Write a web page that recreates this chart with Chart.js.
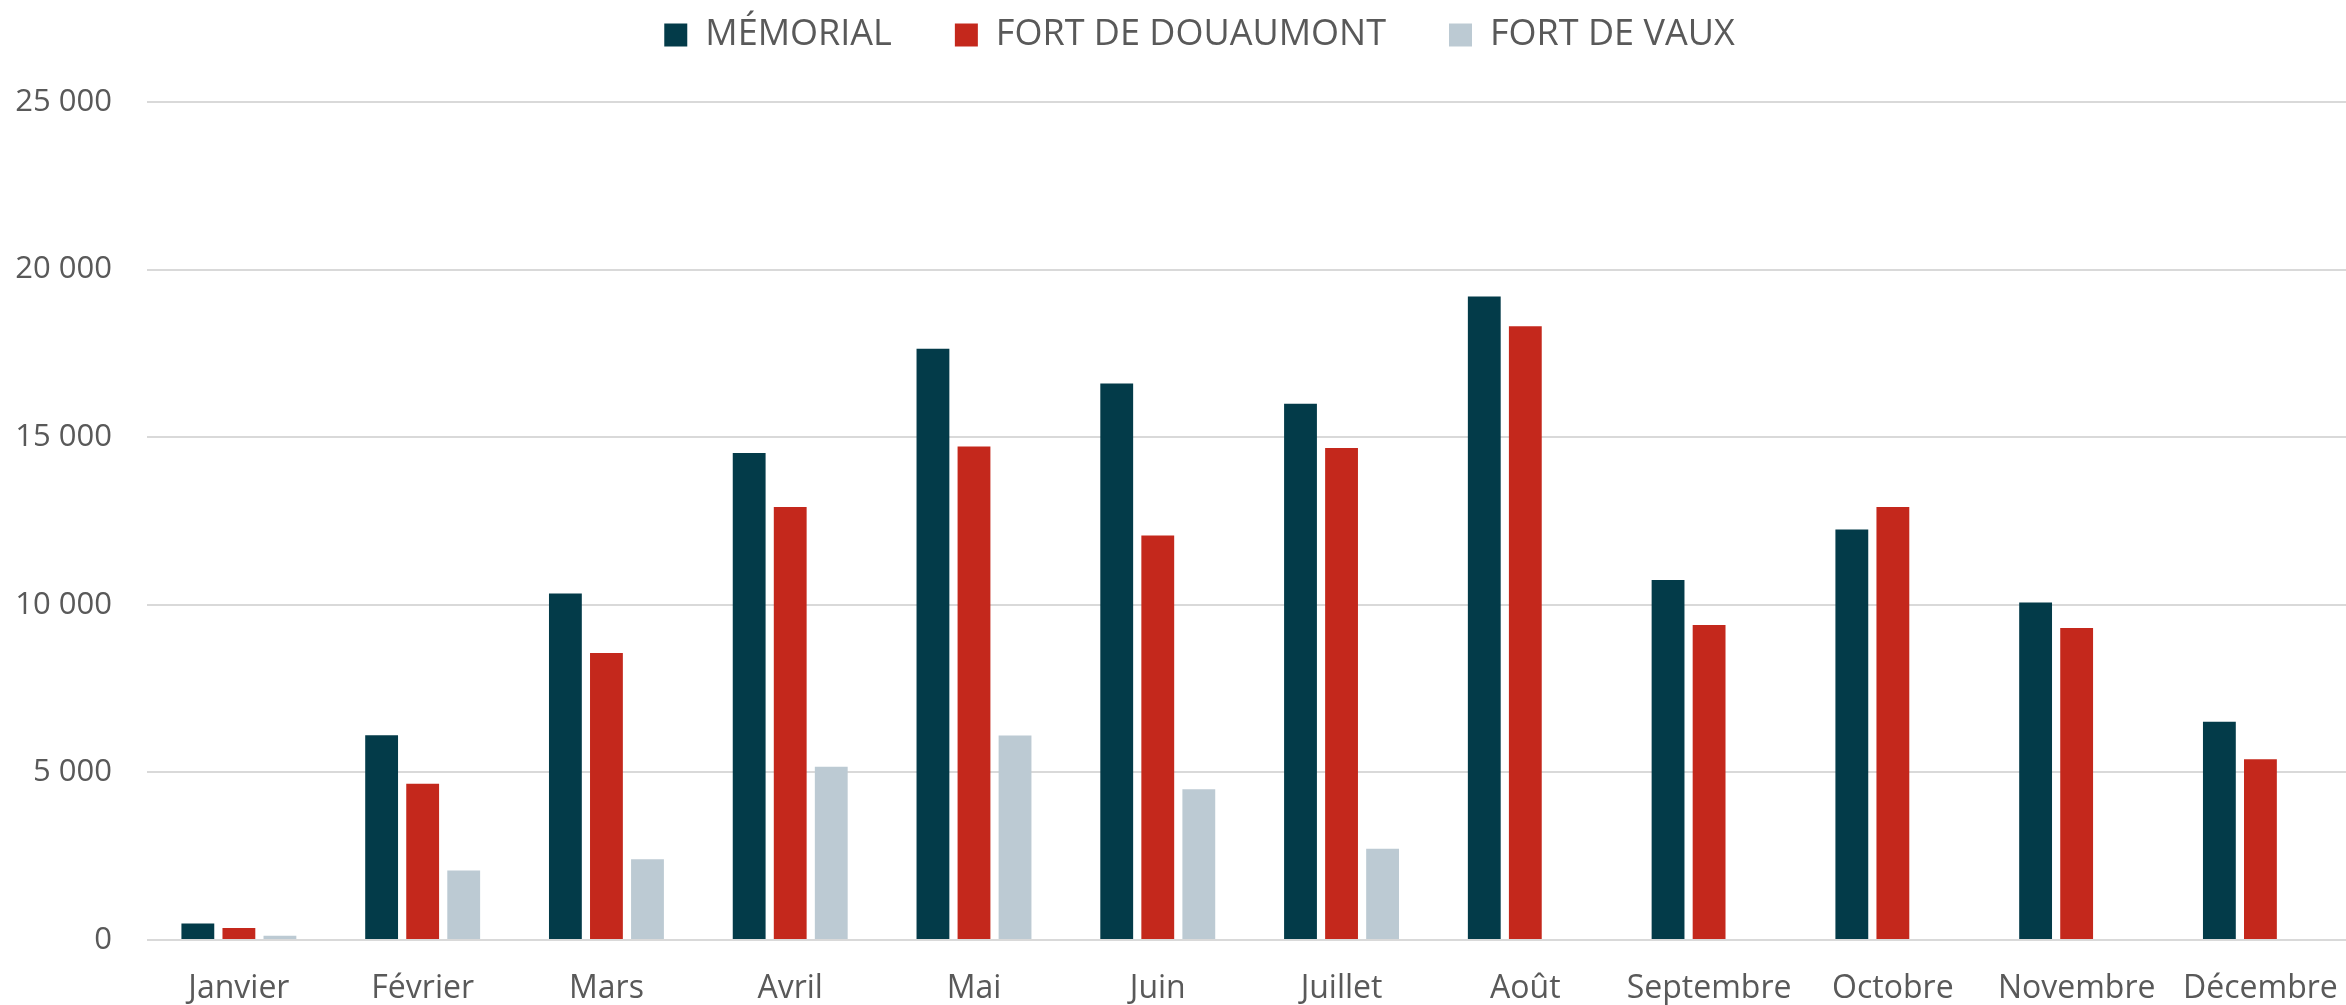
<!DOCTYPE html>
<html lang="fr">
<head>
<meta charset="utf-8">
<title>Fréquentation mensuelle</title>
<script src="https://cdn.jsdelivr.net/npm/chart.js@4/dist/chart.umd.min.js"></script>
<style>
  html, body { margin: 0; padding: 0; background: #fff; overflow: hidden; }
  #wrap { width: 2368px; height: 1005px; }
</style>
</head>
<body>
<div id="wrap"><canvas id="visits" width="2368" height="1005"></canvas></div>
<script>
// Data
const months = ['Janvier', 'Février', 'Mars', 'Avril', 'Mai', 'Juin', 'Juillet', 'Août', 'Septembre', 'Octobre', 'Novembre', 'Décembre'];
const memorial = [490, 6110, 10340, 14530, 17640, 16600, 16000, 19200, 10740, 12250, 10070, 6510];
const douaumont = [360, 4660, 8560, 12920, 14720, 12070, 14680, 18310, 9400, 12920, 9310, 5390];
const vaux = [130, 2070, 2410, 5170, 6100, 4500, 2720, null, null, null, null, null];
const yTicks = [0, 5000, 10000, 15000, 20000, 25000];

const grey = '#595959';
Chart.defaults.font.family = "'Open Sans', 'DejaVu Sans', sans-serif";
Chart.defaults.color = grey;

function fmt(v) {
    return String(v).replace(/\B(?=(\d{3})+(?!\d))/g, ' ');
}

// Legend sits higher and a bit more to the right than Chart.js would put it
const legendShift = {
    id: 'legendShift',
    afterLayout(chart) {
        chart.legend.top -= 39;
        chart.legend.bottom -= 39;
        chart.legend.left += 18;
        chart.legend.right += 18;
    }
};

const bar = (label, data, color) => ({
    label: label,
    data: data,
    backgroundColor: color,
    borderWidth: 0,
    barPercentage: 0.8,
    categoryPercentage: 0.67
});

new Chart(document.getElementById('visits').getContext('2d'), {
    type: 'bar',
    data: {
        labels: months,
        datasets: [
            bar('MÉMORIAL', memorial, '#033b49'),
            bar('FORT DE DOUAUMONT', douaumont, '#c4281c'),
            bar('FORT DE VAUX', vaux, '#bccad3')
        ]
    },
    options: {
        responsive: false,
        animation: false,
        layout: { padding: { left: 0, right: 5, top: -7, bottom: 0 } },
        plugins: {
            legend: {
                position: 'top',
                labels: {
                    boxWidth: 23,
                    boxHeight: 23,
                    padding: 63,
                    color: grey,
                    font: { size: 36 }
                }
            },
            tooltip: { enabled: false }
        },
        scales: {
            x: {
                afterFit(scale) { scale.height = 65; },
                grid: { display: false, drawTicks: false },
                border: { display: false },
                ticks: { font: { size: 32 }, padding: 30, maxRotation: 0, autoSkip: false }
            },
            y: {
                min: 0,
                max: 25000,
                afterBuildTicks(scale) { scale.ticks = yTicks.map(v => ({ value: v })); },
                afterFit(scale) { scale.width = 147; },
                grid: { color: '#d9d9d9', lineWidth: 2, drawTicks: false },
                border: { display: false },
                ticks: { font: { size: 31 }, padding: 35, callback: v => fmt(v) }
            }
        }
    },
    plugins: [legendShift]
});
</script>
</body>
</html>
